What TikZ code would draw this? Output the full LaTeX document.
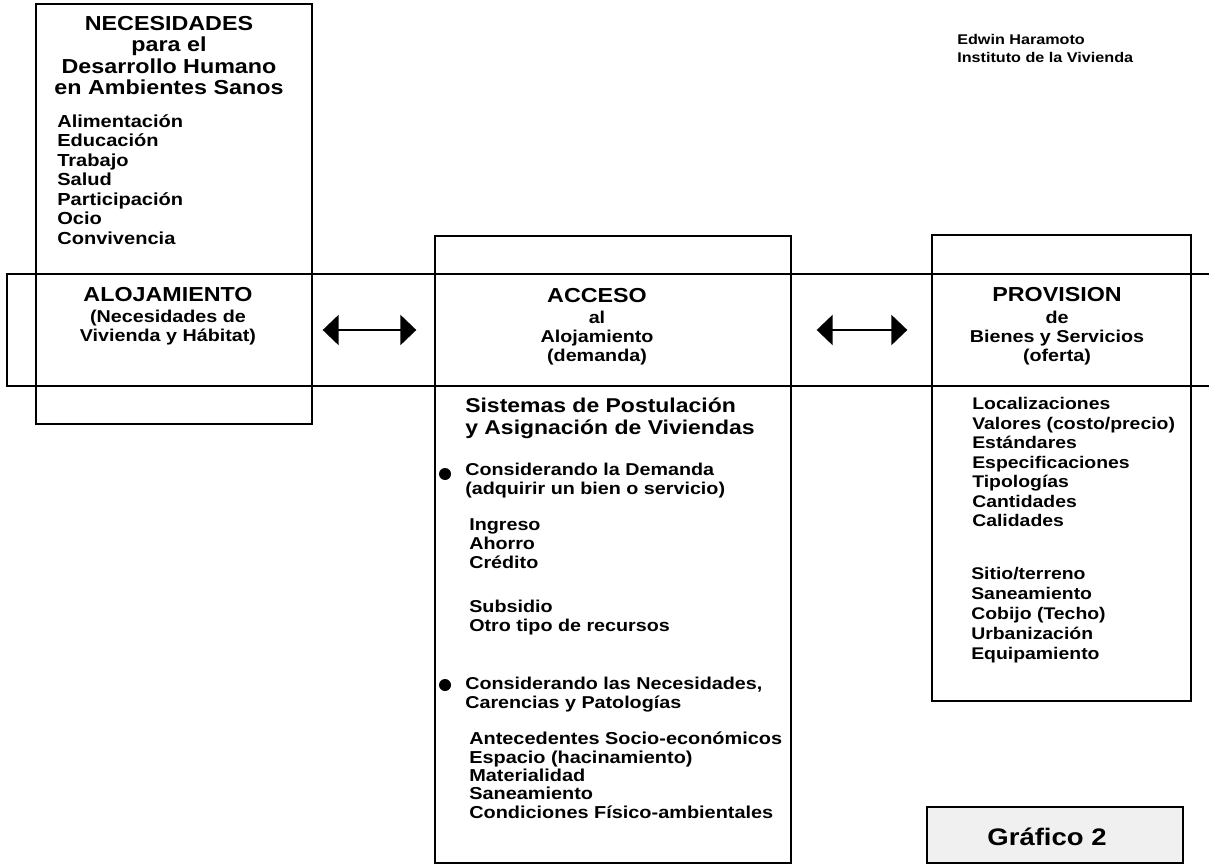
\documentclass[tikz,border=0pt]{standalone}
\usepackage{fontspec}
\setmainfont{Liberation Sans}[FakeStretch=1.15]
\usetikzlibrary{arrows.meta, calc}
\tikzstyle{caja} = [rectangle, draw=black, line width=0.9pt, inner sep=0pt]
\tikzstyle{banda} = [rectangle, draw=black, line width=1.5pt, inner sep=0pt]
\tikzstyle{grafico} = [rectangle, draw=black, line width=1.3pt, fill=gray!12, inner sep=0pt]
\tikzstyle{titulo} = [inner sep=0pt, align=center, anchor=north, font=\bfseries\fontsize{14.4}{15.3}\selectfont]
\tikzstyle{subtitulo} = [inner sep=0pt, align=center, anchor=north, font=\bfseries\fontsize{12.2}{13.3}\selectfont]
\tikzstyle{lista} = [inner sep=0pt, align=left, anchor=north west, font=\bfseries\fontsize{12.2}{13.7}\selectfont]
\tikzstyle{punto} = [circle, fill=black, inner sep=0pt, minimum size=0.3cm]
\tikzstyle{flecha} = [line width=2pt, {Triangle[length=0.4cm, width=0.75cm]}-{Triangle[length=0.4cm, width=0.75cm]}]

\begin{document}
\begin{tikzpicture}[x=0.025cm, y=-0.025cm]
  \useasboundingbox (0,0) rectangle (1209,865);

  % Boxes
  \node (nec) at (174,214) [caja, minimum width=6.9cm, minimum height=10.5cm] {};
  \node (acc) at (613,549.5) [caja, minimum width=8.9cm, minimum height=15.675cm] {};
  \node (prov) at (1061.5,468) [caja, minimum width=6.475cm, minimum height=11.65cm] {};
  \node (banda) at (618.5,330) [banda, minimum width=30.575cm, minimum height=2.8cm] {};
  \node (graf) at (1055,835) [grafico, minimum width=6.4cm, minimum height=1.4cm] {};

  % Left side: needs
  \node (nectit) at (169,16) [titulo] {NECESIDADES\\para el\\Desarrollo Humano\\en Ambientes Sanos};
  \node (neclista) at (57,114) [lista, font=\bfseries\fontsize{12.4}{13.9}\selectfont] {Alimentación\\Educación\\Trabajo\\Salud\\Participación\\Ocio\\Convivencia};
  \node (aloj) at (168,287) [titulo] {ALOJAMIENTO};
  \node (alojsub) at (168,310) [subtitulo] {(Necesidades de\\Vivienda y Hábitat)};

  % Middle: access
  \node (acceso) at (597,288) [titulo] {ACCESO};
  \node (accesosub) at (597,311) [subtitulo] {al\\Alojamiento\\(demanda)};
  \node (sistemas) at (465,398) [lista, font=\bfseries\fontsize{14.2}{15.6}\selectfont] {Sistemas de Postulación\\y Asignación de Viviendas};
  \node (punto1) at (445,474) [punto] {};
  \node (demanda) at (465,463) [lista] {Considerando la Demanda\\(adquirir un bien o servicio)};
  \node (ingreso) at (469,518) [lista] {Ingreso\\Ahorro\\Crédito};
  \node (subsidio) at (469,600) [lista] {Subsidio\\Otro tipo de recursos};
  \node (punto2) at (445,685) [punto] {};
  \node (necesid) at (465,677) [lista] {Considerando las Necesidades,\\Carencias y Patologías};
  \node (antec) at (469,732) [lista, font=\bfseries\fontsize{12.3}{13}\selectfont] {Antecedentes Socio-económicos\\Espacio (hacinamiento)\\Materialidad\\Saneamiento\\Condiciones Físico-ambientales};

  % Right side: provision
  \node (provision) at (1057,287) [titulo] {PROVISION};
  \node (provsub) at (1057,311) [subtitulo] {de\\Bienes y Servicios\\(oferta)};
  \node (provlista) at (972,397) [lista, font=\bfseries\fontsize{12}{13.9}\selectfont] {Localizaciones\\Valores (costo/precio)\\Estándares\\Especificaciones\\Tipologías\\Cantidades\\Calidades};
  \node (sitio) at (971,567) [lista, font=\bfseries\fontsize{12}{14.2}\selectfont] {Sitio/terreno\\Saneamiento\\Cobijo (Techo)\\Urbanización\\Equipamiento};

  % Author and figure label
  \node (autor) at (957,34) [lista, font=\bfseries\fontsize{10}{12.8}\selectfont] {Edwin Haramoto\\Instituto de la Vivienda};
  \node (grafnum) at (1047,845) [inner sep=0pt, anchor=base, font=\bfseries\fontsize{17}{20}\selectfont] {Gráfico 2};

  % Arrows
  \draw[flecha] ($(nec.east |- banda.center)+(0.25cm,0)$) -- ($(acc.west |- banda.center)+(-0.45cm,0)$);
  \draw[flecha] ($(acc.east |- banda.center)+(0.625cm,0)$) -- ($(prov.west |- banda.center)+(-0.6cm,0)$);

\end{tikzpicture}
\end{document}
